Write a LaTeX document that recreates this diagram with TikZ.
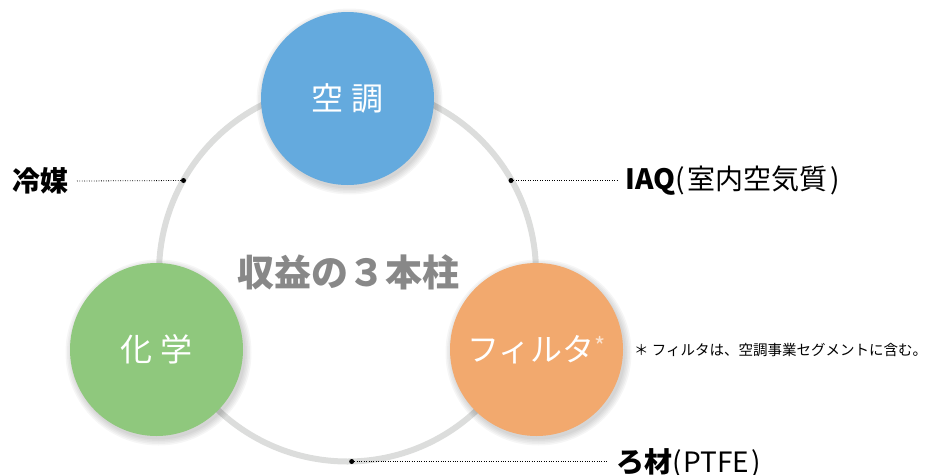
\documentclass[tikz,border=0pt]{standalone}
\usepackage{fontspec}
\newfontfamily\jp{Noto Sans CJK JP}
\definecolor{ringgray}{HTML}{DCDDDC}
\definecolor{cblue}{HTML}{64AADE}
\definecolor{cgreen}{HTML}{8FC87D}
\definecolor{corange}{HTML}{F2A96E}
\definecolor{titlegray}{HTML}{888888}
\definecolor{stargray}{HTML}{FBE3CF}
\tikzset{
  pillar/.style={circle, fill=#1, minimum size=173pt, inner sep=0pt, text=white,
    font=\jp\fontsize{32}{32}\selectfont},
  shadowc/.style={fill=black, opacity=0.035},
  leader/.style={draw=black, line width=0.8pt, dash pattern=on 0.8pt off 1.6pt},
  dotmark/.style={circle, fill=black, inner sep=0pt, minimum size=5pt},
  label/.style={inner sep=0pt, text=black, font=\jp\fontsize{28}{28}\selectfont},
}
\begin{document}
\begin{tikzpicture}[x=1pt,y=-1pt]
\useasboundingbox (0,0) rectangle (929,474);
% ring
\draw[ringgray, line width=6pt] (347.5,273) circle[radius=188.5];
% shadows
\foreach \cx/\cy in {347.5/98.5, 156.5/349.5, 536.5/349.5}{
  \foreach \r in {87,88.5,90,91.5,93}{
    \fill[shadowc] (\cx+2,\cy+3) circle[radius=\r];
  }
}
% pillars
\node[pillar=cblue] (kucho) at (347.5,98.5) {空\hspace{9pt}調};
\node[pillar=cgreen] (kagaku) at (156.5,349.5) {化\hspace{9pt}学};
\node[pillar=corange] (filter) at (536.5,349.5) {フィルタ\raisebox{6pt}{\textcolor{stargray}{\fontsize{24}{24}\selectfont *}}};
% title
\node[inner sep=0pt, text=titlegray, font=\jp\bfseries\fontsize{37}{37}\selectfont] (title) at (348,272) {収益の３本柱};
% dots on ring
\node[dotmark] (dl) at (183.5,180.5) {};
\node[dotmark] (dr) at (511,180.5) {};
\node[dotmark] (db) at (351.7,461.5) {};
% labels
\node[label, anchor=east, font=\jp\bfseries\fontsize{28}{28}\selectfont] (reibai) at (69,181) {冷媒};
\node[label, anchor=west] (iaq) at (625,181) {\bfseries IAQ\mdseries(\hspace{3pt}室内空気質\hspace{3pt})};
\node[label, anchor=west] (rozai) at (616,463) {\bfseries ろ材\mdseries(\hspace{2pt}PTFE\hspace{2pt})};
\node[inner sep=0pt, anchor=west, text=black, font=\jp\fontsize{14.5}{14.5}\selectfont] (note) at (634,350) {＊ フィルタは、空調事業セグメントに含む。};
% leaders
\draw[leader] ([xshift=8pt]reibai.east) -- (dl.center);
\draw[leader] (dr.center) -- ([xshift=-8pt]iaq.west |- dr.center);
\draw[leader] (db.center) -- ([xshift=-9pt]rozai.west |- db.center);
\end{tikzpicture}
\end{document}
